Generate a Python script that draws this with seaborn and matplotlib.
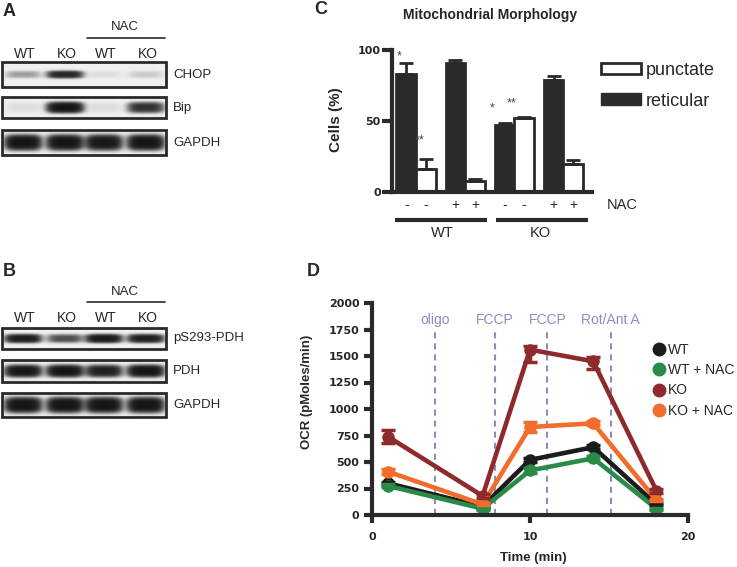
import numpy as np
import pandas as pd
import matplotlib
matplotlib.use("Agg")
import matplotlib.pyplot as plt
from matplotlib.patches import Rectangle, Patch
from matplotlib.lines import Line2D
import seaborn as sns

sns.set_style("white")
plt.rcParams['font.family'] = ['Liberation Sans', 'DejaVu Sans']

# ---- western blot band intensities (0 = none, 1 = saturated) ----
lanes = ['WT', 'KO', 'WT', 'KO']
blotA_labels = ['CHOP', 'Bip', 'GAPDH']
blotA_bands = [[0.15, 0.7, 0.03, 0.06],
               [0.03, 1.0, 0.03, 0.6],
               [1.0, 1.0, 0.95, 1.0]]
blotB_labels = ['pS293-PDH', 'PDH', 'GAPDH']
blotB_bands = [[0.85, 0.4, 0.9, 0.8],
               [0.95, 1.0, 0.8, 1.0],
               [1.0, 1.0, 1.0, 1.0]]

# ---- panel C: mitochondrial morphology ----
conds = ['WT -', 'WT +', 'KO -', 'KO +']
nac = ['-', '+', '-', '+']
reticular = [83, 91, 47.5, 79]
reticular_err = [8, 2, 1.2, 2.5]
punctate = [16, 7.5, 52, 20]
punctate_err = [7.5, 1.5, 0.8, 2.4]

# ---- panel D: OCR time course ----
times = [1, 7, 10, 14, 18]
groups = ['WT', 'WT + NAC', 'KO', 'KO + NAC']
ocr_wt = [300, 80, 520, 640, 100]
ocr_wt_nac = [275, 60, 420, 535, 60]
ocr_ko = [740, 180, 1560, 1450, 230]
ocr_ko_nac = [410, 100, 830, 865, 140]
err_lo = {'WT': [15, 10, 20, 20, 10], 'WT + NAC': [15, 10, 20, 20, 10],
          'KO': [60, 20, 120, 70, 20], 'KO + NAC': [20, 10, 50, 20, 10]}
err_hi = {'WT': [15, 10, 20, 20, 10], 'WT + NAC': [15, 10, 20, 20, 10],
          'KO': [60, 20, 30, 40, 20], 'KO + NAC': [20, 10, 50, 20, 10]}
colors = {'WT': '#1c1c1c', 'WT + NAC': '#2a8a48', 'KO': '#8e2a2c', 'KO + NAC': '#f26c2c'}
injections = [4, 7.8, 11.1, 15.1]
injection_labels = ['oligo', 'FCCP', 'FCCP', 'Rot/Ant A']

W, H = 737, 567
fig = plt.figure(figsize=(W / 100, H / 100), dpi=100)

# overlay in pixel coordinates for labels and blots
ov = fig.add_axes([0, 0, 1, 1])
ov.set_xlim(0, W)
ov.set_ylim(H, 0)
ov.axis('off')

dark = '#2a2a2a'


def draw_blot(y_top, labels, bands, heights, thick):
    lane_x = [23, 65, 104, 146]
    for (y0, y1), lab, vals, th in zip(heights, labels, bands, thick):
        x0, x1 = 2, 166
        xx = np.linspace(x0, x1, 240)
        yy = np.linspace(y0, y1, 60)
        X, Y = np.meshgrid(xx, yy)
        signal = np.zeros(X.shape)
        yc = (y0 + y1) / 2
        for cx, v in zip(lane_x, vals):
            hx = np.exp(-np.abs((X - cx) / 17.0) ** 4)
            vy = np.exp(-np.abs((Y - yc) / th) ** 3)
            signal += v * hx * vy
        img = 0.06 + 0.9 * (1 - np.exp(-3.0 * signal))
        ov.imshow(1 - img, cmap='gray', vmin=0, vmax=1,
                  extent=[x0, x1, y1, y0], aspect='auto', zorder=1)
        ov.add_patch(Rectangle((x0, y0), x1 - x0, y1 - y0, fill=False,
                               ec=dark, lw=2, zorder=2))
        ov.text(173, yc, lab, fontsize=9.5, va='center', ha='left')
    for cx, ln in zip(lane_x, lanes):
        ov.text(cx + 2, y_top, ln, fontsize=10, ha='center', va='center')


# panel A
ov.text(3, 12, 'A', fontsize=13, fontweight='bold', va='center')
ov.text(125, 27, 'NAC', fontsize=9.5, ha='center', va='center')
ov.plot([87, 165], [38, 38], color=dark, lw=1.2)
draw_blot(54, blotA_labels, blotA_bands, [(62, 87), (97, 118), (130, 155)], [3.5, 5.0, 7.0])

# panel B
ov.text(3, 271, 'B', fontsize=13, fontweight='bold', va='center')
ov.text(125, 292, 'NAC', fontsize=9.5, ha='center', va='center')
ov.plot([87, 165], [302, 302], color=dark, lw=1.2)
draw_blot(318, blotB_labels, blotB_bands, [(328, 349), (360, 382), (393, 417)], [4.0, 5.5, 7.0])

ov.set_xlim(0, W)
ov.set_ylim(H, 0)

# ---- panel C ----
ov.text(321, 10, 'C', fontsize=13, fontweight='bold', va='center', ha='center')
ov.text(490, 15, 'Mitochondrial Morphology', fontsize=10, fontweight='bold',
        ha='center', va='center')
ov.text(336, 120, 'Cells (%)', fontsize=11, fontweight='bold', rotation=90,
        ha='center', va='center')

dfC = pd.DataFrame({'cond': conds * 2,
                    'morph': ['reticular'] * 4 + ['punctate'] * 4,
                    'pct': reticular + punctate})
axC = fig.add_axes([392 / W, 1 - 192 / H, 200 / W, 142 / H])
axC.set_facecolor('none')
sns.barplot(data=dfC, x='cond', y='pct', hue='morph', order=conds,
            hue_order=['reticular', 'punctate'],
            palette={'reticular': dark, 'punctate': 'white'},
            edgecolor=dark, linewidth=2, errorbar=None, legend=False,
            width=0.8, ax=axC)
bars = sorted(axC.patches, key=lambda p: p.get_x())
errs = [v for pair in zip(reticular_err, punctate_err) for v in pair]
centers = []
for p, e in zip(bars, errs):
    x = p.get_x() + p.get_width() / 2
    centers.append(x)
    axC.errorbar(x, p.get_height(), yerr=[[0], [e]], fmt='none', ecolor=dark,
                 elinewidth=2, capsize=5, capthick=2, zorder=1)
axC.set_xticks(centers)
axC.set_xticklabels([s for s in nac for _ in range(2)], fontsize=10)
axC.tick_params(axis='x', length=0, pad=4)
axC.set_xlim(-0.49, 3.58)
axC.set_ylim(0, 100)
axC.set_yticks([0, 50, 100])
axC.set_yticklabels(['0', '50', '100'], fontsize=8, fontweight='bold',
                    family='DejaVu Sans')
axC.tick_params(axis='y', length=7, width=3, pad=1, color=dark, left=True)
axC.set_xlabel('')
axC.set_ylabel('')
sns.despine(ax=axC)
for s in ['left', 'bottom']:
    axC.spines[s].set_linewidth(3)
    axC.spines[s].set_color(dark)

ov.text(622, 205, 'NAC', fontsize=10.5, ha='center', va='center')
ov.plot([395, 487], [220, 220], color=dark, lw=3, solid_capstyle='butt')
ov.plot([496, 588], [220, 220], color=dark, lw=3, solid_capstyle='butt')
ov.text(442, 233, 'WT', fontsize=10.5, ha='center', va='center')
ov.text(540, 233, 'KO', fontsize=10.5, ha='center', va='center')
# significance stars, drawn in axC so they sit above the bars
for x, y, s in [(399, 56, '*'), (420, 140, '**'), (492, 108, '*'), (512, 103, '**')]:
    axC.text(x, y, s, fontsize=9, ha='center', va='center', color='#444444',
             transform=ov.transData, clip_on=False, zorder=5)

hC = [Patch(facecolor='white', edgecolor=dark, lw=2, label='punctate'),
      Patch(facecolor=dark, edgecolor=dark, label='reticular')]
axC.legend(handles=hC, loc='upper left', bbox_to_anchor=(601, 62),
           bbox_transform=ov.transData, frameon=False, fontsize=13,
           handlelength=2.2, handleheight=0.6, handletextpad=0.3,
           labelspacing=0.75, borderpad=0, borderaxespad=0)

# ---- panel D ----
ov.text(313, 272, 'D', fontsize=13, fontweight='bold', va='center', ha='center')
series = [ocr_wt, ocr_wt_nac, ocr_ko, ocr_ko_nac]
dfD = pd.DataFrame({'time': times * 4,
                    'ocr': [v for s in series for v in s],
                    'group': [g for g in groups for _ in times]})
axD = fig.add_axes([372 / W, 1 - 515 / H, 316 / W, 212 / H])
axD.set_facecolor('none')
inj_color = '#8c8cc4'
axD.vlines(injections, 0, 1760, colors=inj_color, linestyles=(0, (2.9, 2.4)),
           lw=1.5, zorder=0)
for x, lab in zip(injections, injection_labels):
    axD.text(x, 1835, lab, color=inj_color, fontsize=10, ha='center', va='center')
sns.lineplot(data=dfD, x='time', y='ocr', hue='group', hue_order=groups,
             palette=colors, marker='o', markersize=9, markeredgewidth=0,
             linewidth=3.3, errorbar=None, legend=False, ax=axD)
for g, s in zip(groups, series):
    axD.errorbar(times, s, yerr=[err_lo[g], err_hi[g]], fmt='none',
                 ecolor=colors[g], elinewidth=2.5, capsize=5, capthick=2.5)
axD.set_xlim(0, 20)
axD.set_ylim(0, 2000)
axD.set_xticks([0, 10, 20])
axD.set_yticks(range(0, 2001, 250))
for lab in axD.get_xticklabels() + axD.get_yticklabels():
    lab.set_fontweight('bold')
    lab.set_fontsize(8)
    lab.set_family('DejaVu Sans')
axD.tick_params(axis='y', length=6, width=3, pad=3, color=dark, left=True)
axD.tick_params(axis='x', length=6, width=3, pad=6, color=dark, bottom=True)
axD.set_xlabel('')
axD.set_ylabel('')
sns.despine(ax=axD)
for s in ['left', 'bottom']:
    axD.spines[s].set_linewidth(3)
    axD.spines[s].set_color(dark)
ov.text(533, 558, 'Time (min)', fontsize=9.5, fontweight='bold', ha='center', va='center')
ov.text(307, 392, 'OCR (pMoles/min)', fontsize=9.5, fontweight='bold', rotation=90,
        ha='center', va='center')

hD = [Line2D([], [], marker='o', ls='', color=colors[g], markersize=9, label=g)
      for g in groups]
axD.legend(handles=hD, loc='upper left', bbox_to_anchor=(653, 343),
           bbox_transform=ov.transData, frameon=False, fontsize=10,
           handlelength=0.8, handletextpad=0.3, labelspacing=0.45,
           borderpad=0, borderaxespad=0)

fig.savefig('out.png', dpi=100)
